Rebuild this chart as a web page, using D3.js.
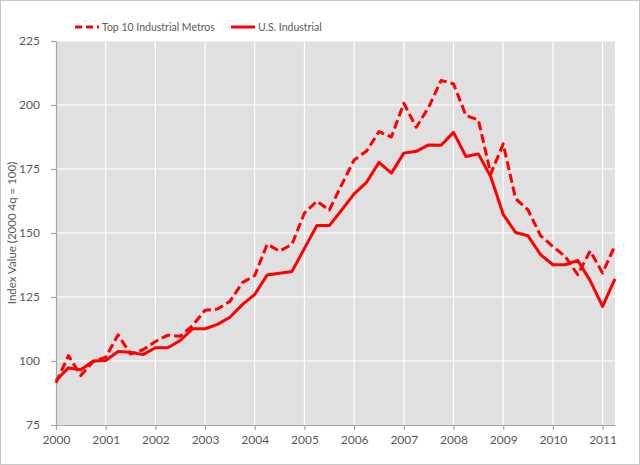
<!DOCTYPE html>
<html>
<head>
<meta charset="utf-8">
<script src="https://cdn.jsdelivr.net/npm/d3@7"></script>
<style>
body{margin:0;background:#fff;}
text{font-family:Lato,"Open Sans",sans-serif;fill:#595959;}
</style>
</head>
<body>
<div class="canva"></div>
<script>
// quarterly index values, 2000 q1 .. 2011 q2
const quarters = d3.range(46).map(i => 2000 + i * 0.25);
const top10 = [91.5,102.1,94.3,99.8, 101.5,110.2,102.7,104.4, 107.6,110.1,109.7,113.9,
  119.8,120.3,123.3,130.6, 133.4,145.6,142.9,145.6, 157.8,162.4,158.9,168.9,
  178.5,182,189.6,187.5, 200.7,191.3,199.1,209.6, 208.3,195.9,194.2,173.1,
  184.8,163.4,159,149, 144.7,140.8,133.7,143, 134.4,145.1];
const usInd = [92.4,97.3,96.6,100, 100.2,103.7,103.4,102.5, 105.2,105.2,108,112.6,
  112.6,114.3,117.1,122, 126,133.6,134.3,135, 144,152.9,152.9,159,
  165.3,169.8,177.6,173.4, 181.2,181.9,184.4,184.3, 189.3,179.9,180.9,172,
  157.3,150.2,148.9,141.6, 137.6,137.6,139.3,131.4, 121.3,132.1];
const yearTicks = d3.range(2000, 2012);
const yTicks = [75,100,125,150,175,200,225];
const seriesNames = ["Top 10 Industrial Metros","U.S. Industrial"];

const W = 640, H = 465;
const m = {left:56, right:25, top:41, bottom:40};

const svg = d3.select(".canva").append("svg")
  .attr("width", W).attr("height", H);

svg.append("rect").attr("x",0.5).attr("y",0.5).attr("width",W-1).attr("height",H-1)
  .attr("fill","#fff").attr("stroke","#c8c8c8");

const x = d3.scaleLinear().domain([2000, 2011.25]).range([m.left, W - m.right]);
const y = d3.scaleLinear().domain([75, 225]).range([H - m.bottom, m.top]);

svg.append("rect")
  .attr("x", x(2000)).attr("y", y(225))
  .attr("width", x(2011.25) - x(2000)).attr("height", y(75) - y(225))
  .attr("fill","#e0e0e0");

// grid
svg.append("g").selectAll("line").data(yTicks.slice(1)).enter().append("line")
  .attr("x1", x(2000)).attr("x2", x(2011.25))
  .attr("y1", d => y(d)).attr("y2", d => y(d))
  .attr("stroke","#fff").attr("stroke-width",1.2);
svg.append("g").selectAll("line").data(yearTicks.slice(1)).enter().append("line")
  .attr("x1", d => x(d)).attr("x2", d => x(d))
  .attr("y1", y(225)).attr("y2", y(75))
  .attr("stroke","#fff").attr("stroke-width",1.2);

// axes
const yAxis = svg.append("g").attr("transform", `translate(${m.left},0)`)
  .call(d3.axisLeft(y).tickValues(yTicks).tickSize(5).tickPadding(11).tickSizeOuter(0));
const xAxis = svg.append("g").attr("transform", `translate(0,${y(75)})`)
  .call(d3.axisBottom(x).tickValues(yearTicks).tickFormat(d3.format("d")).tickSize(5).tickPadding(5).tickSizeOuter(0));
[yAxis, xAxis].forEach(a => {
  a.selectAll("path,line").attr("stroke","#a6a6a6").attr("stroke-width",1.2);
  a.selectAll("text").attr("font-size",12).style("fill","#595959");
});

svg.append("text")
  .attr("transform", `translate(16,${(y(75)+y(225))/2}) rotate(-90)`)
  .attr("text-anchor","middle").attr("font-size",11.5)
  .text("Index Value (2000 4q = 100)");

const line = d3.line().x((d,i) => x(quarters[i])).y(d => y(d));

svg.append("path").datum(top10).attr("d", line)
  .attr("fill","none").attr("stroke","#ff0000").attr("stroke-width",3)
  .attr("stroke-dasharray","9,4").attr("stroke-linejoin","round");
svg.append("path").datum(usInd).attr("d", line)
  .attr("fill","none").attr("stroke","#ff0000").attr("stroke-width",3)
  .attr("stroke-linejoin","round");

// legend
const leg = [{x:75, dash:"7,4"}, {x:231, dash:null}];
leg.forEach((l, i) => {
  svg.append("line").attr("x1", l.x).attr("x2", l.x + 24).attr("y1", 27).attr("y2", 27)
    .attr("stroke","#ff0000").attr("stroke-width",3)
    .attr("stroke-dasharray", l.dash);
  svg.append("text").attr("x", l.x + 27).attr("y", 30.5)
    .attr("font-size",10.5).text(seriesNames[i]);
});
</script>
</body>
</html>
